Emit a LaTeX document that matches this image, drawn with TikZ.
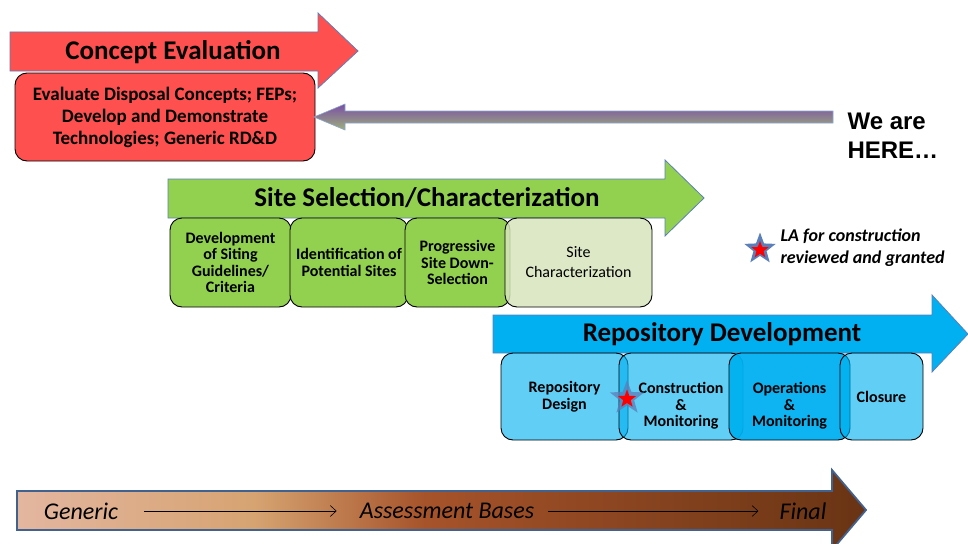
\documentclass[tikz,border=0pt]{standalone}
\usepackage{fontspec}
\setmainfont{Carlito}
\newfontfamily\arialfont{Liberation Sans}
\usetikzlibrary{shapes.geometric,arrows.meta}

\definecolor{evalred}{HTML}{FF5050}
\definecolor{sitegreen}{HTML}{92D050}
\definecolor{sitepale}{HTML}{D7E4BD}
\definecolor{repoblue}{HTML}{00B0F0}
\definecolor{rimblue}{HTML}{5B7FB8}
\definecolor{rimdark}{HTML}{41618F}
\definecolor{herepurple}{HTML}{7A4FA6}
\definecolor{heregreen}{HTML}{9DB07A}
\definecolor{tanlight}{HTML}{E3B6A0}
\definecolor{tanmid}{HTML}{D6A371}
\definecolor{sienna}{HTML}{A6532A}
\definecolor{darkbrown}{HTML}{693414}

\pgfdeclarehorizontalshading{basesshade}{100bp}{color(0bp)=(tanlight); color(25bp)=(tanlight); color(39bp)=(tanmid); color(49bp)=(sienna); color(75bp)=(darkbrown); color(100bp)=(darkbrown)}

\tikzstyle{bigarrow} = [draw=rimblue,line width=0.8pt]
\tikzstyle{arrowtitle} = [font=\bfseries\fontsize{27}{30}\selectfont]
\tikzstyle{phasebox} = [draw=black,line width=0.9pt,rounded corners=12pt,align=center,inner sep=0pt,text opacity=1]
\tikzstyle{sitebox} = [style=phasebox,fill=sitegreen,minimum height=89pt,font=\bfseries\fontsize{16}{16.5}\selectfont]
\tikzstyle{repobox} = [style=phasebox,fill=repoblue,fill opacity=0.62,minimum height=87pt,font=\bfseries\fontsize{16}{16.5}\selectfont]
\tikzstyle{basestext} = [font=\itshape\fontsize{24}{26}\selectfont,inner sep=0pt]
\tikzstyle{flowline} = [draw=black,line width=0.6pt,-{Straight Barb[length=6pt,width=11pt]}]

\begin{document}
\begin{tikzpicture}[x=1pt,y=-1pt]
    \useasboundingbox (0,0) rectangle (968,543);

    % concept evaluation
    \draw [style=bigarrow, fill=evalred] (10,32) -- (318,32) -- (318,13) -- (358,51) -- (318,88) -- (318,71) -- (10,71) -- cycle;
    \node [style=arrowtitle] (evaltitle) at (173,52) {Concept Evaluation};
    \node [style=phasebox, fill=evalred, minimum width=300pt, minimum height=88pt, font=\bfseries\fontsize{19}{22}\selectfont] (evalbox) at (165,117)
        {Evaluate Disposal Concepts; FEPs;\\Develop and Demonstrate\\Technologies; Generic RD\&D};

    % we are here
    \node [font=\arialfont\bfseries\fontsize{24}{29}\selectfont, align=left, anchor=west] (here) at (844,136) {We are\\HERE…};
    \shade [top color=herepurple, bottom color=heregreen, draw=rimblue!70, line width=0.6pt]
        (833,111) -- (345,111) -- (345,104) -- (314,117) -- (345,130) -- (345,123) -- (833,123) -- cycle;

    % site selection
    \draw [style=bigarrow, fill=sitegreen] (168,179) -- (665,179) -- (665,160) -- (704,198) -- (665,236) -- (665,218) -- (168,218) -- cycle;
    \node [style=arrowtitle] (sitetitle) at (427,198) {Site Selection/Characterization};
    \node [style=sitebox, minimum width=121pt] (siting) at (230.5,262.5) {Development\\of Siting\\Guidelines/\\Criteria};
    \node [style=sitebox, minimum width=118pt] (identify) at (349,262.5) {Identification of\\Potential Sites};
    \node [style=sitebox, minimum width=105pt] (downsel) at (457.5,262.5) {Progressive\\Site Down-\\Selection};
    \node [style=sitebox, fill=sitepale, fill opacity=0.85, minimum width=147pt, font=\fontsize{16}{20}\selectfont] (sitechar) at (578.5,262.5) {Site\\Characterization};

    % legend star
    \node [star, star points=5, star point ratio=2.4, fill=rimblue, minimum size=33pt, inner sep=0pt] (lastar) at (760,249) {};
    \node [star, star points=5, star point ratio=2.4, fill=red, minimum size=18pt, inner sep=0pt] (lacore) at (760,250) {};
    \node [font=\bfseries\itshape\fontsize{18}{22}\selectfont, align=left, anchor=west] (latext) at (777,248) {LA for construction\\reviewed and granted};

    % repository development
    \draw [style=bigarrow, fill=repoblue] (493,315) -- (932,315) -- (932,295) -- (968,334) -- (932,372) -- (932,353) -- (493,353) -- cycle;
    \node [style=arrowtitle] (repotitle) at (722,334) {Repository Development};
    \node [style=repobox, minimum width=127pt] (design) at (564.5,396.5) {Repository\\Design};
    \node [style=repobox, minimum width=124pt] (build) at (681,396.5) {\rule{0pt}{14pt}\\Construction\\\&\\Monitoring};
    \node [style=repobox, fill opacity=0.95, minimum width=121pt] (operate) at (789.5,396.5) {\rule{0pt}{14pt}\\Operations\\\&\\Monitoring};
    \node [style=repobox, minimum width=83pt] (closure) at (881.5,396.5) {Closure};
    \node [star, star points=5, star point ratio=2.4, fill=rimblue, fill opacity=0.75, minimum size=36pt, inner sep=0pt] (lastep) at (627,398) {};
    \node [star, star points=5, star point ratio=2.4, fill=red, minimum size=19pt, inner sep=0pt] (lastepcore) at (627,399) {};

    % assessment bases
    \draw [draw=rimdark, line width=1.8pt, shading=basesshade] (17,491) -- (832,491) -- (832,470) -- (866,510) -- (832,550) -- (832,530) -- (17,530) -- cycle;
    \node [style=basestext] (generic) at (81,511) {Generic};
    \node [style=basestext] (bases) at (447,511) {Assessment Bases};
    \node [style=basestext] (final) at (803,511) {Final};

    \draw [style=flowline, shorten <=26pt, shorten >=23pt] (generic) -- (bases);
    \draw [style=flowline, shorten <=14pt, shorten >=21pt] (bases) -- (final);
\end{tikzpicture}
\end{document}
